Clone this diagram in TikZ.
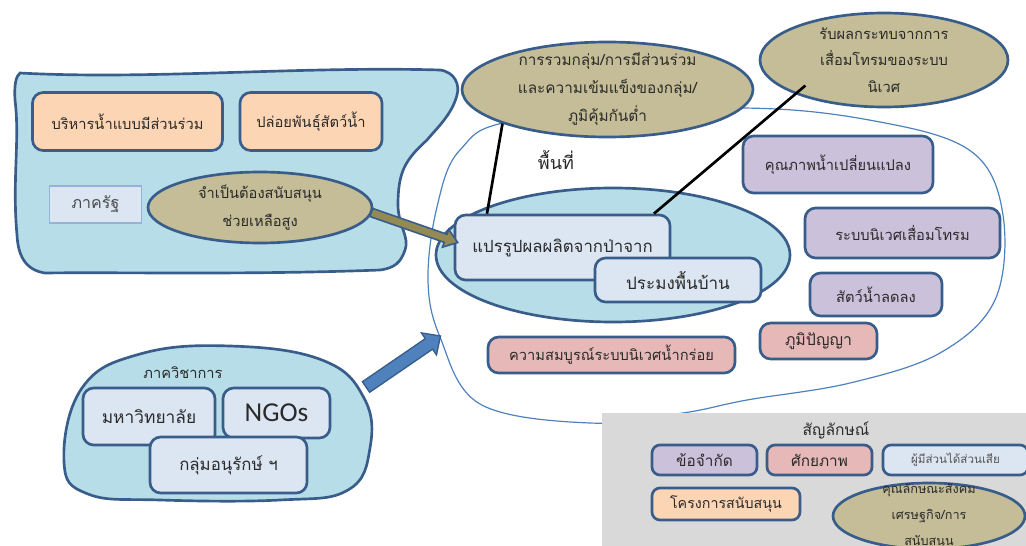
\documentclass[tikz,border=0pt]{standalone}
\usepackage{fontspec}
\setmainfont{Loma}[Script=Thai]
\newfontfamily\latfont{Carlito}
\usetikzlibrary{calc,shapes.geometric}

\definecolor{edge}{HTML}{385D8A}
\definecolor{blobfill}{HTML}{B7DDE8}
\definecolor{orangef}{HTML}{FCD5B5}
\definecolor{litef}{HTML}{DCE6F2}
\definecolor{litedge}{HTML}{95B3D7}
\definecolor{purpf}{HTML}{CCC1DA}
\definecolor{pinkf}{HTML}{E6B9B8}
\definecolor{khaki}{HTML}{C4BD97}
\definecolor{olive}{HTML}{948A54}
\definecolor{thinline}{HTML}{4F81BD}
\definecolor{legendgray}{HTML}{D9D9D9}
\definecolor{txt}{HTML}{2A2A2A}

% block arrow drawn as a polygon: style, start, end, shaft half width, head half width, head start fraction
\newcommand\blockarrow[6]{%
  \path ($(#2)!#6!(#3)$) coordinate (ba-h);
  \draw[#1] ($(#2)!#4!90:(#3)$) -- ($(ba-h)!#4!90:(#3)$) -- ($(ba-h)!#5!90:(#3)$)
    -- (#3) -- ($(ba-h)!#5!-90:(#3)$) -- ($(ba-h)!#4!-90:(#3)$)
    -- ($(#2)!#4!-90:(#3)$) -- cycle;}

\begin{document}
\begin{tikzpicture}[x=0.75pt,y=-0.75pt,
  sz/.style 2 args={minimum width=#1*0.75pt,minimum height=#2*0.75pt},
  fs/.style={font=\fontsize{#1}{14}\selectfont},
  base/.style={draw=edge,line width=2pt},
  rbox/.style={base,rounded corners=8pt,align=center,text=txt,inner sep=0pt,fs=11},
  orangebox/.style={rbox,fill=orangef},
  litebox/.style={rbox,fill=litef},
  purpbox/.style={rbox,fill=purpf},
  pinkbox/.style={rbox,fill=pinkf},
  keybox/.style={rounded corners=6pt},
  oval/.style={ellipse,base,fill=khaki,inner sep=0pt},
  ovaltext/.style={align=center,text=txt},
  blob/.style={draw=edge,line width=2pt,fill=blobfill},
  link/.style={draw=black,line width=2pt},
  plain/.style={text=txt,inner sep=0pt}]
\useasboundingbox (0,0) rectangle (1026,546);
\clip (0,0) rectangle (1026,546);

% ---- government sector blob ----
\path[blob] (20,73) .. controls (150,80) and (300,66) .. (440,70)
  .. controls (455,72) and (460,85) .. (457,95)
  .. controls (452,115) and (435,130) .. (427,140)
  .. controls (405,160) and (398,172) .. (398,205)
  .. controls (398,225) and (410,238) .. (405,250)
  .. controls (401,262) and (395,268) .. (380,270)
  .. controls (250,275) and (120,272) .. (45,273)
  .. controls (25,270) and (18,255) .. (17,235)
  .. controls (12,180) and (20,140) .. (15,100)
  .. controls (14,85) and (16,76) .. (20,73) -- cycle;

\node[orangebox,sz={190}{58}] (mgmt) at (127.5,121.5) {บริหารน้ำแบบมีส่วนร่วม};
\node[orangebox,sz={142}{58}] (release) at (311,121.5) {ปล่อยพันธุ์สัตว์น้ำ};
\node[draw=litedge,line width=0.8pt,fill=litef,sz={92}{37},inner sep=0pt,
  text=txt!85,fs=12] (gov) at (95.5,204.5) {ภาครัฐ\hspace{13pt}};
\node[oval,sz={224}{71},label={[ovaltext,font=\fontsize{11}{21}\selectfont]center:จำเป็นต้องสนับสนุน\\ช่วยเหลือสูง}] (need) at (260,207.5) {};

% ---- area outline ----
\draw[thinline,line width=0.9pt] plot[smooth cycle,tension=0.6] coordinates {
  (520,120) (740,108) (880,122) (972,152) (1003,215) (995,300) (940,353)
  (850,383) (747,400) (683,413) (590,423) (480,404) (440,337) (428,280)
  (437,207) (460,150)};
\node[plain,fs=13.5] (area) at (556,160) {พื้นที่};

% ---- local livelihood cluster ----
\path[blob] (613,255) ellipse [x radius=177,y radius=67];
\node[litebox,sz={215}{65},fs=12.6] (proc) at (562.5,247.5) {แปรรูปผลผลิตจากป่าจาก};
\node[litebox,sz={166}{44},fs=12.8] (fish) at (678,280) {ประมงพื้นบ้าน};

% ---- problem ovals ----
\node[oval,sz={291}{95},label={[ovaltext,font=\fontsize{11.5}{21}\selectfont]center:การรวมกลุ่ม/การมีส่วนร่วม\\และความเข้มแข็งของกลุ่ม/\\ภูมิคุ้มกันต่ำ}] (group) at (607.5,89.5) {};
\node[oval,sz={248}{94},label={[ovaltext,font=\fontsize{11}{20}\selectfont]center:รับผลกระทบจากการ\\เสื่อมโทรมของระบบ\\นิเวศ}] (impact) at (884,60) {};
\draw[link] (group.198) -- ($(proc.north west)!0.153!(proc.north east)$);
\draw[link] ($(impact.center)!0.82!(impact.198)$) -- ($(proc.north west)!0.92!(proc.north east)$);

% ---- constraints and potentials ----
\node[purpbox,sz={190}{57}] (quality) at (838,164.5) {คุณภาพน้ำเปลี่ยนแปลง};
\node[purpbox,sz={195}{50}] (eco) at (902.5,233) {ระบบนิเวศเสื่อมโทรม};
\node[purpbox,sz={132}{43}] (fauna) at (876,294.5) {สัตว์น้ำลดลง};
\node[pinkbox,sz={117}{36},fs=11.9] (wisdom) at (818.5,341) {ภูมิปัญญา};
\node[pinkbox,sz={247}{36}] (rich) at (611.5,355) {ความสมบูรณ์ระบบนิเวศน้ำกร่อย};

% support arrow from government to processing
\coordinate (kaS) at ($(need.east)+(-2,5)$);
\coordinate (kaE) at ($(proc.west)+(4,-5)$);
\blockarrow{draw=edge,line width=1.2pt,fill=olive}{kaS}{kaE}{3.2pt}{7pt}{0.86}

% ---- academic sector blob ----
\path[blob] plot[smooth cycle,tension=0.7] coordinates {
  (64,462) (82,388) (140,354) (230,346) (322,360) (364,398) (370,448)
  (348,490) (280,500) (160,500) (88,494)};
\node[plain,fs=11] (acad) at (183,373) {ภาควิชาการ};
\node[litebox,sz={132}{57},fs=13] (uni) at (149,416.5) {มหาวิทยาลัย};
\node[litebox,sz={107}{50},font=\latfont\fontsize{20.5}{22}\selectfont] (ngo) at (276.5,413) {NGOs};
\node[litebox,sz={157}{56},fs=12.6] (cons) at (228.5,465) {กลุ่มอนุรักษ์ ฯ};

\coordinate (baS) at (366,387);
\coordinate (baE) at (440.5,336);
\blockarrow{draw=edge,line width=1pt,fill=thinline}{baS}{baE}{4.8pt}{10pt}{0.845}

% ---- legend ----
\node[fill=legendgray,inner sep=0pt,sz={430}{140},anchor=north west] (legend) at (602,413) {};
\node[plain,fs=11.7] (legtitle) at (836,430) {สัญลักษณ์};
\node[purpbox,keybox,sz={105}{30},fs=11.5] (keylimit) at (704.5,460) {ข้อจำกัด};
\node[pinkbox,keybox,sz={105}{30},fs=11.5] (keypot) at (819.5,460) {ศักยภาพ};
\node[litebox,keybox,sz={145}{30},fs=8.7,text=txt!80] (keystake) at (955.5,460) {ผู้มีส่วนได้ส่วนเสีย};
\node[orangebox,keybox,sz={148}{32},fs=10.7] (keyproj) at (726,504) {โครงการสนับสนุน};
\node[oval,sz={192}{66},label={[ovaltext,font=\fontsize{9.5}{19.5}\selectfont]center:คุณลักษณะสังคม\\เศรษฐกิจ/การ\\สนับสนุน}] (keysoc) at (929,516) {};
\end{tikzpicture}
\end{document}
